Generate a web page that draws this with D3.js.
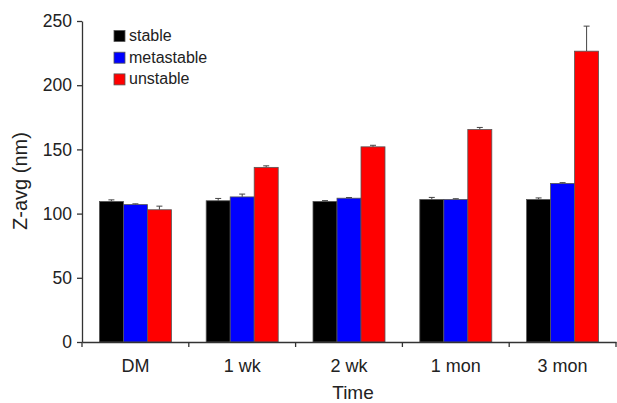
<!DOCTYPE html>
<html>
<head>
<meta charset="utf-8">
<script src="https://cdn.jsdelivr.net/npm/d3@7"></script>
<style>
  body { margin: 0; background: #fff; }
  svg { display: block; font-family: "Liberation Sans", Arial, sans-serif; }
</style>
</head>
<body>
<div id="chart"></div>
<script>
// Data
const categories = ["DM", "1 wk", "2 wk", "1 mon", "3 mon"];
const seriesNames = ["stable", "metastable", "unstable"];
const seriesColors = ["#000000", "#0000ff", "#ff0000"];
const stableValues = [109.5, 110, 109.5, 111, 111];
const metastableValues = [107, 113, 112, 111, 123.5];
const unstableValues = [103, 136, 152, 165.5, 226.5];
const stableErrors = [1.2, 1.8, 0.6, 1.6, 1.2];
const metastableErrors = [0.6, 2.2, 0.5, 0.6, 0.6];
const unstableErrors = [2.8, 1.2, 1.2, 1.6, 19.5];
const yTicks = [0, 50, 100, 150, 200, 250];

const width = 617, height = 403;
const margin = { top: 21, right: 1, bottom: 61, left: 82 };

const svg = d3.select("#chart").append("svg")
  .attr("width", width)
  .attr("height", height);

const values = [stableValues, metastableValues, unstableValues];
const errors = [stableErrors, metastableErrors, unstableErrors];

const x = d3.scaleBand()
  .domain(categories)
  .range([margin.left, width - margin.right])
  .paddingInner(0)
  .paddingOuter(0);

const xInner = d3.scaleBand()
  .domain(seriesNames)
  .range([0, 72]);

const y = d3.scaleLinear()
  .domain([0, 250])
  .range([height - margin.bottom, margin.top]);

const axisColor = "#333";

// bars
const groups = svg.append("g")
  .selectAll("g")
  .data(categories)
  .enter()
  .append("g")
  .attr("transform", d => `translate(${x(d) + (x.bandwidth() - 72) / 2},0)`);

groups.each(function (cat, ci) {
  const g = d3.select(this);
  seriesNames.forEach((s, si) => {
    const v = values[si][ci];
    const e = errors[si][ci];
    const bx = xInner(s);
    const cx = bx + xInner.bandwidth() / 2;
    // error bar (upper only)
    g.append("line")
      .attr("x1", cx).attr("x2", cx)
      .attr("y1", y(v)).attr("y2", y(v + e))
      .attr("stroke", "#444").attr("stroke-width", 1);
    g.append("line")
      .attr("x1", cx - 3).attr("x2", cx + 3)
      .attr("y1", y(v + e)).attr("y2", y(v + e))
      .attr("stroke", "#444").attr("stroke-width", 1);
    g.append("rect")
      .attr("x", bx)
      .attr("y", y(v))
      .attr("width", xInner.bandwidth())
      .attr("height", y(0) - y(v))
      .attr("fill", seriesColors[si])
      .attr("stroke", "#555")
      .attr("stroke-width", 0.8);
  });
});

// y axis
const yAxis = svg.append("g")
  .attr("transform", `translate(${margin.left},0)`)
  .call(d3.axisLeft(y).tickValues(yTicks).tickSize(5).tickSizeOuter(0));
yAxis.select(".domain").attr("stroke", axisColor).attr("stroke-width", 1.3);
yAxis.selectAll(".tick line").attr("stroke", axisColor).attr("stroke-width", 1.3);
yAxis.selectAll(".tick text")
  .attr("x", -10)
  .attr("font-size", 17.5)
  .attr("fill", "#222")
  .style("font-family", "Liberation Sans, Arial, sans-serif");

// x axis
const xAxis = svg.append("g")
  .attr("transform", `translate(0,${y(0)})`)
  .call(d3.axisBottom(x).tickSize(0).tickSizeOuter(0));
xAxis.select(".domain").attr("stroke", axisColor).attr("stroke-width", 1.3);
xAxis.selectAll(".tick text")
  .attr("y", 17)
  .attr("font-size", 18)
  .attr("fill", "#222")
  .style("font-family", "Liberation Sans, Arial, sans-serif");

// boundary ticks between groups
const bounds = categories.map(c => x(c)).concat([x(categories[categories.length - 1]) + x.bandwidth()]);
svg.append("g")
  .selectAll("line")
  .data(bounds)
  .enter()
  .append("line")
  .attr("x1", d => d).attr("x2", d => d)
  .attr("y1", y(0)).attr("y2", y(0) + 5)
  .attr("stroke", axisColor).attr("stroke-width", 1.3);

// axis titles
svg.append("text")
  .attr("x", 353)
  .attr("y", 399)
  .attr("text-anchor", "middle")
  .attr("font-size", 19)
  .attr("fill", "#222")
  .text("Time");

svg.append("text")
  .attr("transform", `translate(27,181) rotate(-90)`)
  .attr("text-anchor", "middle")
  .attr("font-size", 20)
  .attr("fill", "#222")
  .text("Z-avg (nm)");

// legend
const legend = svg.append("g").attr("transform", "translate(114,30.5)");
seriesNames.forEach((s, i) => {
  const row = legend.append("g").attr("transform", `translate(0,${i * 21.7})`);
  row.append("rect")
    .attr("width", 11).attr("height", 11)
    .attr("fill", seriesColors[i])
    .attr("stroke", "#555").attr("stroke-width", 0.8);
  row.append("text")
    .attr("x", 15).attr("y", 10.5)
    .attr("font-size", 16)
    .attr("fill", "#222")
    .text(s);
});
</script>
</body>
</html>
